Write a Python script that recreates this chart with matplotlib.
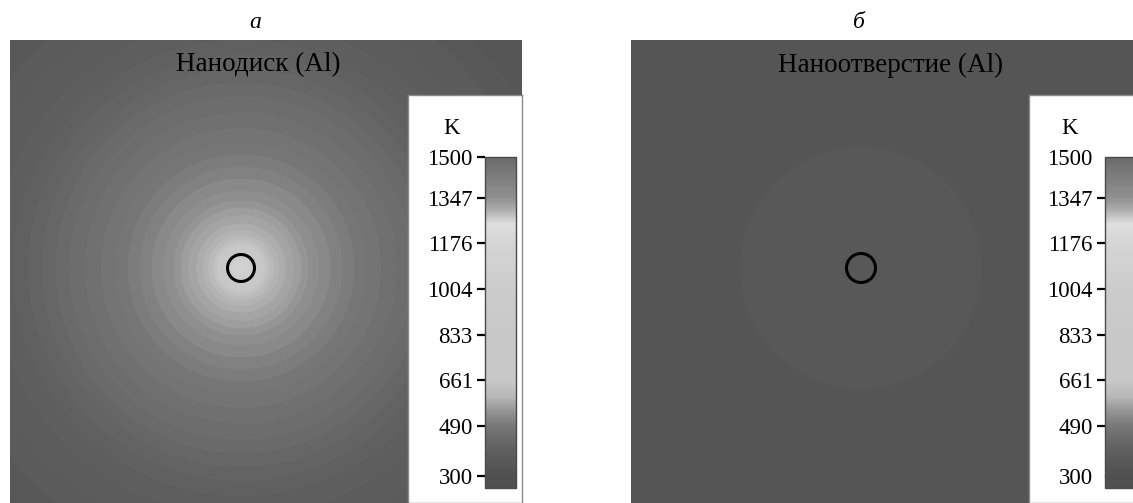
import matplotlib.pyplot as plt
import numpy as np
from matplotlib.colors import LinearSegmentedColormap, Normalize
from matplotlib.patches import Circle
import matplotlib.cm as cm

plt.rcParams['font.family'] = ['Liberation Serif', 'DejaVu Serif']

# radial temperature profiles (K) vs distance from the particle centre (nm)
r_disk = [0, 12, 22, 30, 40, 55, 70, 100, 130, 170, 210, 235, 330, 400]
T_disk = [1150, 1000, 661, 605, 582, 560, 535, 505, 475, 445, 410, 390, 345, 330]

r_hole = [0, 119, 121, 400]
T_hole = [360, 360, 330, 330]

panel_labels = ['а', 'б']
panel_titles = ['Нанодиск (Al)', 'Наноотверстие (Al)']
cbar_ticks = [300, 490, 661, 833, 1004, 1176, 1347, 1500]

# grey version of the rainbow temperature scale
cb_vals = [300, 400, 490, 550, 600, 661, 833, 1004, 1176, 1250, 1300, 1347, 1450, 1500]
cb_gray = [0x50, 0x60, 0x78, 0x98, 0xb8, 0xc8, 0xc8, 0xcc, 0xd5, 0xdf, 0xb0, 0x90, 0x78, 0x6a]
stops = [((v - 300) / 1200, (g / 255, g / 255, g / 255)) for v, g in zip(cb_vals, cb_gray)]
cmap = LinearSegmentedColormap.from_list('tgray', stops)
cmap.set_under(cmap(0.0))
norm = Normalize(300, 1500)
levels = np.arange(300, 1505, 12)

W, H = 1133, 503
fig = plt.figure(figsize=(W / 100, H / 100), dpi=100)


def box(x0, y0, x1, y1):
    return [x0 / W, 1 - y1 / H, (x1 - x0) / W, (y1 - y0) / H]


panels = [
    dict(rect=(10, 40, 522, 503), cx=241, r=r_disk, T=T_disk, ring=13.5,
         title_x=258, lab_x=255, bx=(408, 95, 522, 503), cb=(485, 157, 516, 488), k_x=452),
    dict(rect=(631, 40, 1133, 503), cx=861, r=r_hole, T=T_hole, ring=14.5,
         title_x=891, lab_x=859, bx=(1029, 95, 1134, 503), cb=(1105, 157, 1136, 488), k_x=1070),
]
cy = 268

for i, p in enumerate(panels):
    x0, y0, x1, y1 = p['rect']
    ax = fig.add_axes(box(*p['rect']))
    x = np.arange(x0 - p['cx'], x1 - p['cx'] + 1)
    y = np.arange(cy - y1, cy - y0 + 1)
    X, Y = np.meshgrid(x, y)
    T = np.interp(np.hypot(X, Y), p['r'], p['T'])
    ax.contourf(X, Y, T, levels=levels, cmap=cmap, norm=norm)
    ax.add_patch(Circle((0, 0), p['ring'], fill=False, lw=2.2, color='black'))
    ax.set_xlim(x[0], x[-1])
    ax.set_ylim(y[0], y[-1])
    ax.set_axis_off()

    fig.text(p['title_x'] / W, 1 - 65 / H, panel_titles[i], ha='center', va='center', size=19.5)
    fig.text(p['lab_x'] / W, 1 - 22 / H, panel_labels[i], ha='center', va='center',
             size=17, style='italic')

    # white box holding the colour scale
    bx = fig.add_axes(box(*p['bx']))
    bx.set_xticks([])
    bx.set_yticks([])
    bx.set_facecolor('white')
    for s in bx.spines.values():
        s.set_edgecolor('#8a8a8a')
        s.set_linewidth(1)

    cax = fig.add_axes(box(*p['cb']))
    sm = cm.ScalarMappable(norm=norm, cmap=cmap)
    cbar = fig.colorbar(sm, cax=cax, extend='min', extendrect=True,
                        extendfrac=12 / 331, ticks=cbar_ticks, ticklocation='left')
    cbar.outline.set_edgecolor('#4a4a4a')
    cbar.outline.set_linewidth(1)
    cax.tick_params(direction='out', length=6, width=1.6, labelsize=16.5, pad=3)
    for t, v in zip(cax.yaxis.get_major_ticks(), cbar_ticks):
        if v in (300, 1500):
            t.tick1line.set_visible(False)
    fig.text(p['k_x'] / W, 1 - 129 / H, 'K', ha='center', va='center', size=16.5)

plt.savefig('out.png', dpi=100)
